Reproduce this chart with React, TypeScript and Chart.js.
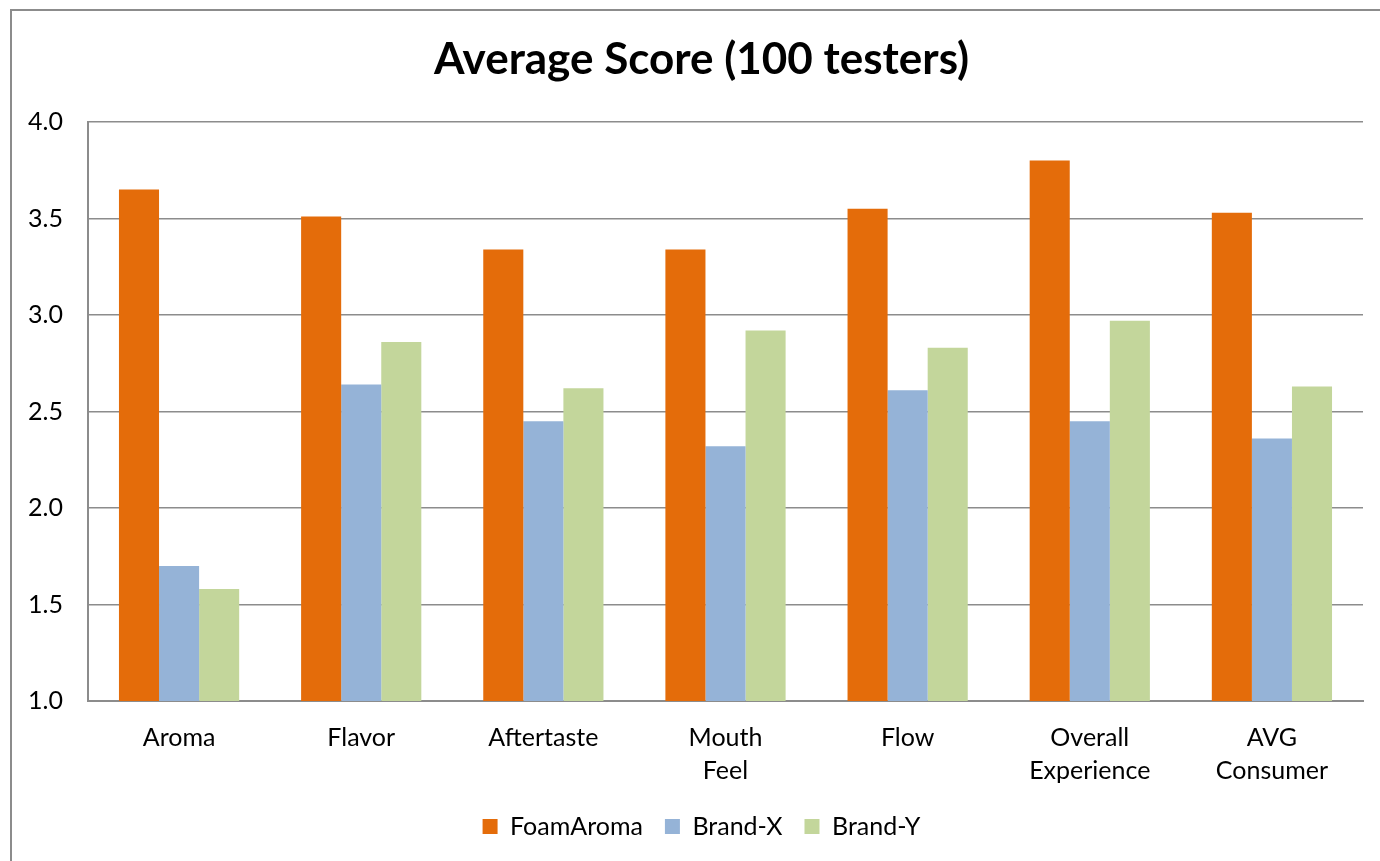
import React, { useEffect, useRef } from "react";
import { Chart, registerables } from "chart.js";

Chart.register(...registerables);

const categories: (string | string[])[] = [
  "Aroma",
  "Flavor",
  "Aftertaste",
  ["Mouth", "Feel"],
  "Flow",
  ["Overall", "Experience"],
  ["AVG", "Consumer"],
];
const foamAroma = [3.65, 3.51, 3.34, 3.34, 3.55, 3.8, 3.53];
const brandX = [1.7, 2.64, 2.45, 2.32, 2.61, 2.45, 2.36];
const brandY = [1.58, 2.86, 2.62, 2.92, 2.83, 2.97, 2.63];
const yTicks = [1.0, 1.5, 2.0, 2.5, 3.0, 3.5, 4.0];

const FONT = "Lato, 'Open Sans', sans-serif";

const framePlugin = {
  id: "frame",
  beforeDraw(chart: any) {
    const ctx = chart.ctx;
    ctx.save();
    ctx.fillStyle = "#ffffff";
    ctx.fillRect(0, 0, chart.width, chart.height);
    ctx.strokeStyle = "#8c8c8c";
    ctx.lineWidth = 2;
    ctx.beginPath();
    ctx.moveTo(11, chart.height + 2);
    ctx.lineTo(11, 10);
    ctx.lineTo(chart.width + 2, 10);
    ctx.stroke();
    ctx.restore();
  },
};

export default function App() {
  const ref = useRef<HTMLCanvasElement | null>(null);
  useEffect(() => {
    document.body.style.margin = "0";
    const canvas = ref.current;
    if (!canvas) return;
    const chart = new Chart(canvas, {
      type: "bar",
      data: {
        labels: categories,
        datasets: [
          { label: "FoamAroma", data: foamAroma, backgroundColor: "#E46C0A" },
          { label: "Brand-X", data: brandX, backgroundColor: "#95B3D7" },
          { label: "Brand-Y", data: brandY, backgroundColor: "#C3D69B" },
        ],
      },
      options: {
        responsive: false,
        animation: false,
        layout: { padding: { left: 40, right: 17, top: 0, bottom: 12 } },
        datasets: {
          bar: { categoryPercentage: 0.66, barPercentage: 1.0 },
        },
        plugins: {
          title: {
            display: true,
            text: "Average Score (100 testers)",
            color: "#000000",
            font: { family: FONT, size: 44, weight: "bold" },
            padding: { top: 33.6, bottom: 35.6 },
          },
          legend: {
            position: "bottom",
            labels: {
              color: "#000000",
              font: { family: FONT, size: 25 },
              boxWidth: 15,
              boxHeight: 15,
              padding: 22,
            },
          },
          tooltip: { enabled: false },
        },
        scales: {
          x: {
            grid: { display: false },
            border: { display: true, color: "#8c8c8c", width: 2 },
            ticks: {
              color: "#000000",
              font: { family: FONT, size: 25, lineHeight: 1.32 },
              padding: 12,
              maxRotation: 0,
              autoSkip: false,
            },
            afterFit(scale: any) {
              scale.height = 91;
            },
          },
          y: {
            min: 1,
            max: 4,
            afterBuildTicks(scale: any) {
              scale.ticks = yTicks.map((v) => ({ value: v }));
            },
            grid: { color: "#8c8c8c", lineWidth: 1.5, drawTicks: false },
            border: { display: true, color: "#8c8c8c", width: 2 },
            ticks: {
              color: "#000000",
              font: { family: FONT, size: 25 },
              mirror: true,
              padding: -60,
              callback: (v: any) => Number(v).toFixed(1),
            },
            afterFit(scale: any) {
              scale.width = 48;
            },
          },
        },
      },
      plugins: [framePlugin],
    });
    return () => chart.destroy();
  }, []);
  return (
    <div style={{ width: 1380, height: 861, overflow: "hidden" }}>
      <canvas ref={ref} width={1380} height={861} style={{ display: "block" }} />
    </div>
  );
}
